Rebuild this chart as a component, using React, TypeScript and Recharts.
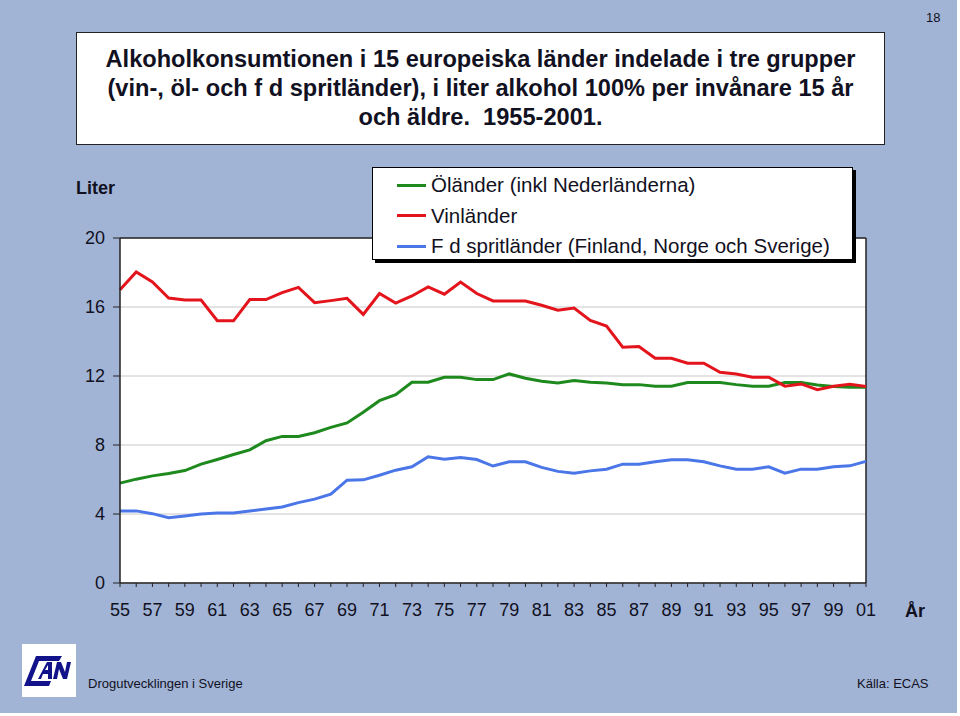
import React from 'react';
import { LineChart, Line, XAxis, YAxis, CartesianGrid, ReferenceLine } from 'recharts';

const years = [
  1955, 1956, 1957, 1958, 1959, 1960, 1961, 1962, 1963, 1964, 1965, 1966, 1967, 1968, 1969, 1970,
  1971, 1972, 1973, 1974, 1975, 1976, 1977, 1978, 1979, 1980, 1981, 1982, 1983, 1984, 1985, 1986,
  1987, 1988, 1989, 1990, 1991, 1992, 1993, 1994, 1995, 1996, 1997, 1998, 1999, 2000, 2001,
];

const olLander = [
  5.79, 6.02, 6.21, 6.35, 6.52, 6.89, 7.16, 7.45, 7.72, 8.25, 8.5, 8.5, 8.71, 9.02, 9.28, 9.9,
  10.57, 10.92, 11.64, 11.64, 11.93, 11.93, 11.79, 11.79, 12.12, 11.87, 11.7, 11.6, 11.74, 11.64, 11.6, 11.5,
  11.5, 11.41, 11.41, 11.62, 11.62, 11.62, 11.5, 11.41, 11.41, 11.62, 11.62, 11.48, 11.39, 11.35, 11.35,
];

const vinLander = [
  17.0, 18.03, 17.45, 16.52, 16.4, 16.4, 15.2, 15.2, 16.43, 16.43, 16.83, 17.14, 16.25, 16.37, 16.5, 15.57,
  16.78, 16.23, 16.64, 17.16, 16.74, 17.45, 16.78, 16.35, 16.35, 16.35, 16.1, 15.81, 15.94, 15.22, 14.9, 13.67,
  13.71, 13.03, 13.03, 12.74, 12.74, 12.22, 12.12, 11.93, 11.93, 11.41, 11.54, 11.21, 11.41, 11.52, 11.39,
];

const spritLander = [
  4.18, 4.18, 4.02, 3.79, 3.89, 4.0, 4.06, 4.06, 4.18, 4.29, 4.41, 4.66, 4.86, 5.15, 5.96, 5.98,
  6.25, 6.54, 6.74, 7.32, 7.18, 7.28, 7.16, 6.78, 7.03, 7.03, 6.7, 6.47, 6.37, 6.5, 6.6, 6.89,
  6.89, 7.03, 7.14, 7.14, 7.03, 6.79, 6.6, 6.6, 6.74, 6.37, 6.6, 6.6, 6.74, 6.79, 7.05,
];

const yTicks = [0, 4, 8, 12, 16, 20];

const seriesNames = [
  'Öländer (inkl Nederländerna)',
  'Vinländer',
  'F d spritländer (Finland, Norge och Sverige)',
];
const seriesColors = ['#1e8a1e', '#e3141b', '#4a76e8'];
const seriesKeys = ['ol', 'vin', 'sprit'];

const titleLines = [
  'Alkoholkonsumtionen i 15 europeiska länder indelade i tre grupper',
  '(vin-, öl- och f d spritländer), i liter alkohol 100% per invånare 15 år',
  'och äldre.  1955-2001.',
];

const data = years.map((y, i) => ({
  year: y,
  ol: olLander[i],
  vin: vinLander[i],
  sprit: spritLander[i],
}));

const BG = '#a1b4d6';
const FONT = '"Liberation Sans", Arial, Helvetica, sans-serif';
const TXT = '#111122';

const Logo = () => (
  <svg width={54} height={53} style={{ position: 'absolute', left: 22, top: 644 }}>
    <rect x={0} y={0} width={54} height={53} fill="#ffffff" />
    <path d="M14 12 L40 12 L37 17 L17 17 L9 37 L29 37 L27 42 L2 42 Z" fill="#12128a" />
    <path d="M16 35 L25 18 L30 18 L30 35 L26 35 L26 30 L21 30 L19 35 Z M23 26 L26 26 L26 21 Z" fill="#12128a" />
    <path d="M31 35 L35 18 L39 18 L43 28 L45 18 L49 18 L45 35 L41 35 L37 25 L35 35 Z" fill="#12128a" />
  </svg>
);

export default function App() {
  return (
    <div
      style={{
        position: 'absolute',
        left: 0,
        top: 0,
        width: 960,
        height: 716,
        background: '#ffffff',
        fontFamily: FONT,
        overflow: 'hidden',
      }}
    >
      <div style={{ position: 'absolute', left: 0, top: 0, width: 957, height: 713, background: BG }} />
      <div style={{ position: 'absolute', left: 926, top: 10, fontSize: 13, color: TXT }}>18</div>
      <div
        style={{
          position: 'absolute',
          left: 76,
          top: 32,
          width: 809,
          height: 113,
          background: '#fff',
          border: '1px solid #222',
          textAlign: 'center',
          fontWeight: 'bold',
          fontSize: 23.6,
          lineHeight: '29px',
          color: TXT,
          paddingTop: 12,
          boxSizing: 'border-box',
        }}
      >
        {titleLines.map((t, i) => (
          <div key={i} style={{ whiteSpace: 'pre' }}>{t}</div>
        ))}
      </div>
      <div style={{ position: 'absolute', left: 76, top: 178, fontSize: 18, fontWeight: 'bold', color: TXT }}>
        Liter
      </div>
      <div style={{ position: 'absolute', left: 905, top: 601, fontSize: 18, fontWeight: 'bold', color: TXT }}>
        År
      </div>
      <div style={{ position: 'absolute', left: 0, top: 0 }}>
        <LineChart
          width={960}
          height={716}
          data={data}
          margin={{ top: 238, right: 94, bottom: 93, left: 0 }}
        >
          <CartesianGrid horizontal={true} vertical={false} stroke="#c8c8c8" fill="#ffffff" fillOpacity={1} />
          <XAxis
            dataKey="year"
            type="number"
            domain={[1955, 2001]}
            ticks={years}
            interval={0}
            tickFormatter={(v: number) => (v % 2 === 1 ? String(v % 100).padStart(2, '0') : '')}
            tickLine={{ stroke: '#222' }}
            axisLine={{ stroke: '#222', strokeWidth: 1.5 }}
            tickSize={4}
            tickMargin={16}
            height={40}
            tick={{ fill: TXT, fontSize: 18, fontFamily: FONT }}
          />
          <YAxis
            domain={[0, 20]}
            ticks={yTicks}
            interval={0}
            width={120}
            tickSize={7}
            tickMargin={8}
            tickLine={{ stroke: '#222' }}
            axisLine={{ stroke: '#222', strokeWidth: 1.5 }}
            tick={{ fill: TXT, fontSize: 18, fontFamily: FONT }}
          />
          <ReferenceLine y={20} stroke="#222" strokeWidth={1.5} />
          <ReferenceLine x={2001} stroke="#222" strokeWidth={1.5} />
          {seriesKeys.map((k, i) => (
            <Line
              key={k}
              dataKey={k}
              name={seriesNames[i]}
              type="linear"
              stroke={seriesColors[i]}
              strokeWidth={3}
              dot={false}
              activeDot={false}
              isAnimationActive={false}
            />
          ))}
        </LineChart>
      </div>
      <div
        style={{
          position: 'absolute',
          left: 372,
          top: 167,
          width: 481,
          height: 93,
          background: '#fff',
          border: '1px solid #000',
          boxShadow: '3px 3px 0 #000',
          boxSizing: 'border-box',
          paddingTop: 2,
        }}
      >
        {seriesNames.map((n, i) => (
          <div key={n} style={{ display: 'flex', alignItems: 'center', height: 30.5 }}>
            <div style={{ marginLeft: 24, width: 29, height: 3, background: seriesColors[i] }} />
            <div style={{ marginLeft: 5, fontSize: 20.5, color: TXT, whiteSpace: 'nowrap' }}>{n}</div>
          </div>
        ))}
      </div>
      <Logo />
      <div style={{ position: 'absolute', left: 88, top: 676, fontSize: 13, color: TXT }}>
        Drogutvecklingen i Sverige
      </div>
      <div style={{ position: 'absolute', left: 857, top: 676, fontSize: 13, color: TXT }}>Källa: ECAS</div>
    </div>
  );
}
